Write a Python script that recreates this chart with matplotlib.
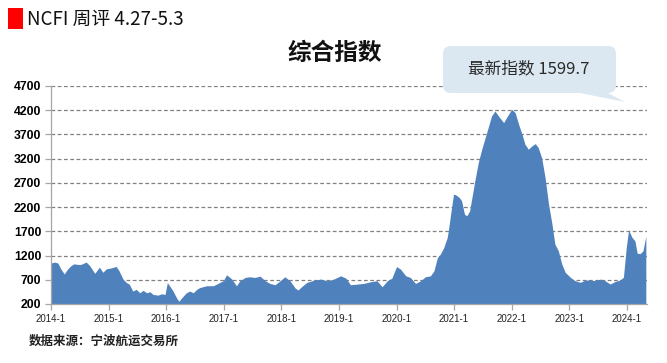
import matplotlib
matplotlib.use('Agg')
import matplotlib.pyplot as plt
from matplotlib.patches import FancyBboxPatch, Polygon, Rectangle

plt.rcParams['font.family'] = ['Noto Sans CJK SC', 'DejaVu Sans']

# ---- data (decimal year, index value) ----
dates = [
    2014.00, 2014.06, 2014.12, 2014.17, 2014.23, 2014.29, 2014.35, 2014.40, 2014.46, 2014.52,
    2014.61, 2014.67, 2014.76, 2014.84, 2014.90, 2014.96, 2015.05, 2015.13, 2015.18, 2015.25,
    2015.31, 2015.36, 2015.42, 2015.48, 2015.54, 2015.60, 2015.66, 2015.72, 2015.77, 2015.86,
    2015.92, 2015.98, 2016.02, 2016.06, 2016.12, 2016.18, 2016.22, 2016.28, 2016.35, 2016.41,
    2016.47, 2016.53, 2016.58, 2016.70, 2016.82, 2016.99, 2017.05, 2017.14, 2017.22, 2017.28,
    2017.37, 2017.45, 2017.54, 2017.63, 2017.72, 2017.80, 2017.89, 2017.98, 2018.06, 2018.15,
    2018.24, 2018.29, 2018.35, 2018.44, 2018.57, 2018.68, 2018.80, 2018.91, 2019.03, 2019.12,
    2019.20, 2019.32, 2019.43, 2019.55, 2019.66, 2019.75, 2019.84, 2019.92, 2020.00, 2020.07,
    2020.16, 2020.24, 2020.33, 2020.42, 2020.50, 2020.59, 2020.65, 2020.71, 2020.76, 2020.82,
    2020.88, 2020.90, 2020.94, 2020.99, 2021.03, 2021.09, 2021.13, 2021.18, 2021.22, 2021.27,
    2021.31, 2021.36, 2021.42, 2021.48, 2021.54, 2021.60, 2021.65, 2021.71, 2021.77, 2021.86,
    2021.91, 2022.00, 2022.06, 2022.12, 2022.18, 2022.23, 2022.29, 2022.35, 2022.41, 2022.46,
    2022.52, 2022.58, 2022.64, 2022.70, 2022.75, 2022.81, 2022.87, 2022.93, 2023.02, 2023.10,
    2023.19, 2023.28, 2023.36, 2023.45, 2023.54, 2023.62, 2023.71, 2023.80, 2023.88, 2023.94,
    2023.99, 2024.03, 2024.09, 2024.14, 2024.18, 2024.23, 2024.28, 2024.33,
]
values = [
    1045, 1066, 1045, 925, 820, 925, 995, 1030, 1017, 1017,
    1066, 995, 833, 960, 855, 925, 946, 975, 890, 714,
    643, 608, 467, 503, 432, 482, 432, 453, 397, 383,
    411, 397, 643, 573, 467, 327, 256, 341, 432, 467,
    432, 503, 538, 577, 577, 680, 803, 714, 577, 680,
    748, 762, 748, 775, 680, 625, 597, 680, 762, 680,
    529, 488, 556, 645, 693, 714, 680, 714, 782, 734,
    597, 611, 625, 659, 680, 556, 680, 734, 974, 919,
    782, 748, 625, 680, 762, 782, 885, 1159, 1227, 1364,
    1570, 1711, 2055, 2467, 2453, 2398, 2330, 2055, 2020, 2124,
    2398, 2742, 3120, 3395, 3635, 3875, 4081, 4185, 4081, 3944,
    4047, 4219, 4150, 3910, 3704, 3498, 3395, 3463, 3511, 3429,
    3223, 2811, 2261, 1849, 1437, 1299, 1024, 853, 750, 681,
    647, 695, 695, 681, 715, 681, 612, 667, 695, 750,
    1368, 1728, 1574, 1505, 1247, 1240, 1299, 1599.7,
]
y_ticks = [200, 700, 1200, 1700, 2200, 2700, 3200, 3700, 4200, 4700]
x_tick_years = list(range(2014, 2025))
x_tick_labels = [f"{y}-1" for y in x_tick_years]

header_text = "NCFI 周评 4.27-5.3"
title_text = "综合指数"
callout_text = "最新指数 1599.7"
source_text = "数据来源：宁波航运交易所"

W, H = 667, 363
fig = plt.figure(figsize=(W / 100, H / 100), dpi=100)
fig.patch.set_facecolor('white')

ax = fig.add_axes([51 / W, (H - 304) / H, (647 - 51) / W, (304 - 86) / H])
for v in y_ticks[1:]:
    ax.axhline(v, color='#808080', lw=0.9, ls=(0, (3, 2)), zorder=0)
ax.fill_between(dates, 200, values, color='#4f81bd', lw=0, zorder=2)
ax.set_xlim(2014.0, 2024.35)
ax.set_ylim(200, 4700)
ax.set_yticks(y_ticks)
ax.set_yticklabels([str(v) for v in y_ticks], fontweight='bold', fontsize=8.8,
                   family=['Liberation Sans', 'DejaVu Sans'])
ax.set_xticks(x_tick_years)
ax.set_xticklabels(x_tick_labels, fontsize=7, family=['Liberation Sans', 'DejaVu Sans'],
                   color='#222222')
for s in ['top', 'right']:
    ax.spines[s].set_visible(False)
for s in ['left', 'bottom']:
    ax.spines[s].set_color('#a6a6a6')
    ax.spines[s].set_linewidth(0.9)
ax.tick_params(axis='both', direction='out', length=4, color='#a6a6a6', width=0.9)
ax.tick_params(axis='y', pad=3)
ax.tick_params(axis='x', pad=3)

ov = fig.add_axes([0, 0, 1, 1], zorder=5)
ov.set_xlim(0, W)
ov.set_ylim(H, 0)
ov.axis('off')
ov.patch.set_alpha(0)

ov.add_patch(Rectangle((8, 8), 15, 21, color='#ff0000', lw=0))
ov.text(27, 19, header_text, fontsize=13.5, va='center', ha='left', color='#111111')
ov.text(335, 53, title_text, fontsize=17, fontweight='bold', va='center', ha='center',
        color='#111111')

ov.add_patch(FancyBboxPatch((443, 46), 173, 47, boxstyle='round,pad=0,rounding_size=8',
                            fc='#dbe8f1', ec='none'))
ov.add_patch(Polygon([(575, 92), (606, 92), (625, 102)], closed=True, fc='#dbe8f1', ec='none'))
ov.text(529, 69, callout_text, fontsize=12, va='center', ha='center', color='#2a2a2a')

ov.text(29, 341, source_text, fontsize=9, fontweight='bold', va='center', ha='left',
        color='#222222')

fig.savefig('out.png', dpi=100)
